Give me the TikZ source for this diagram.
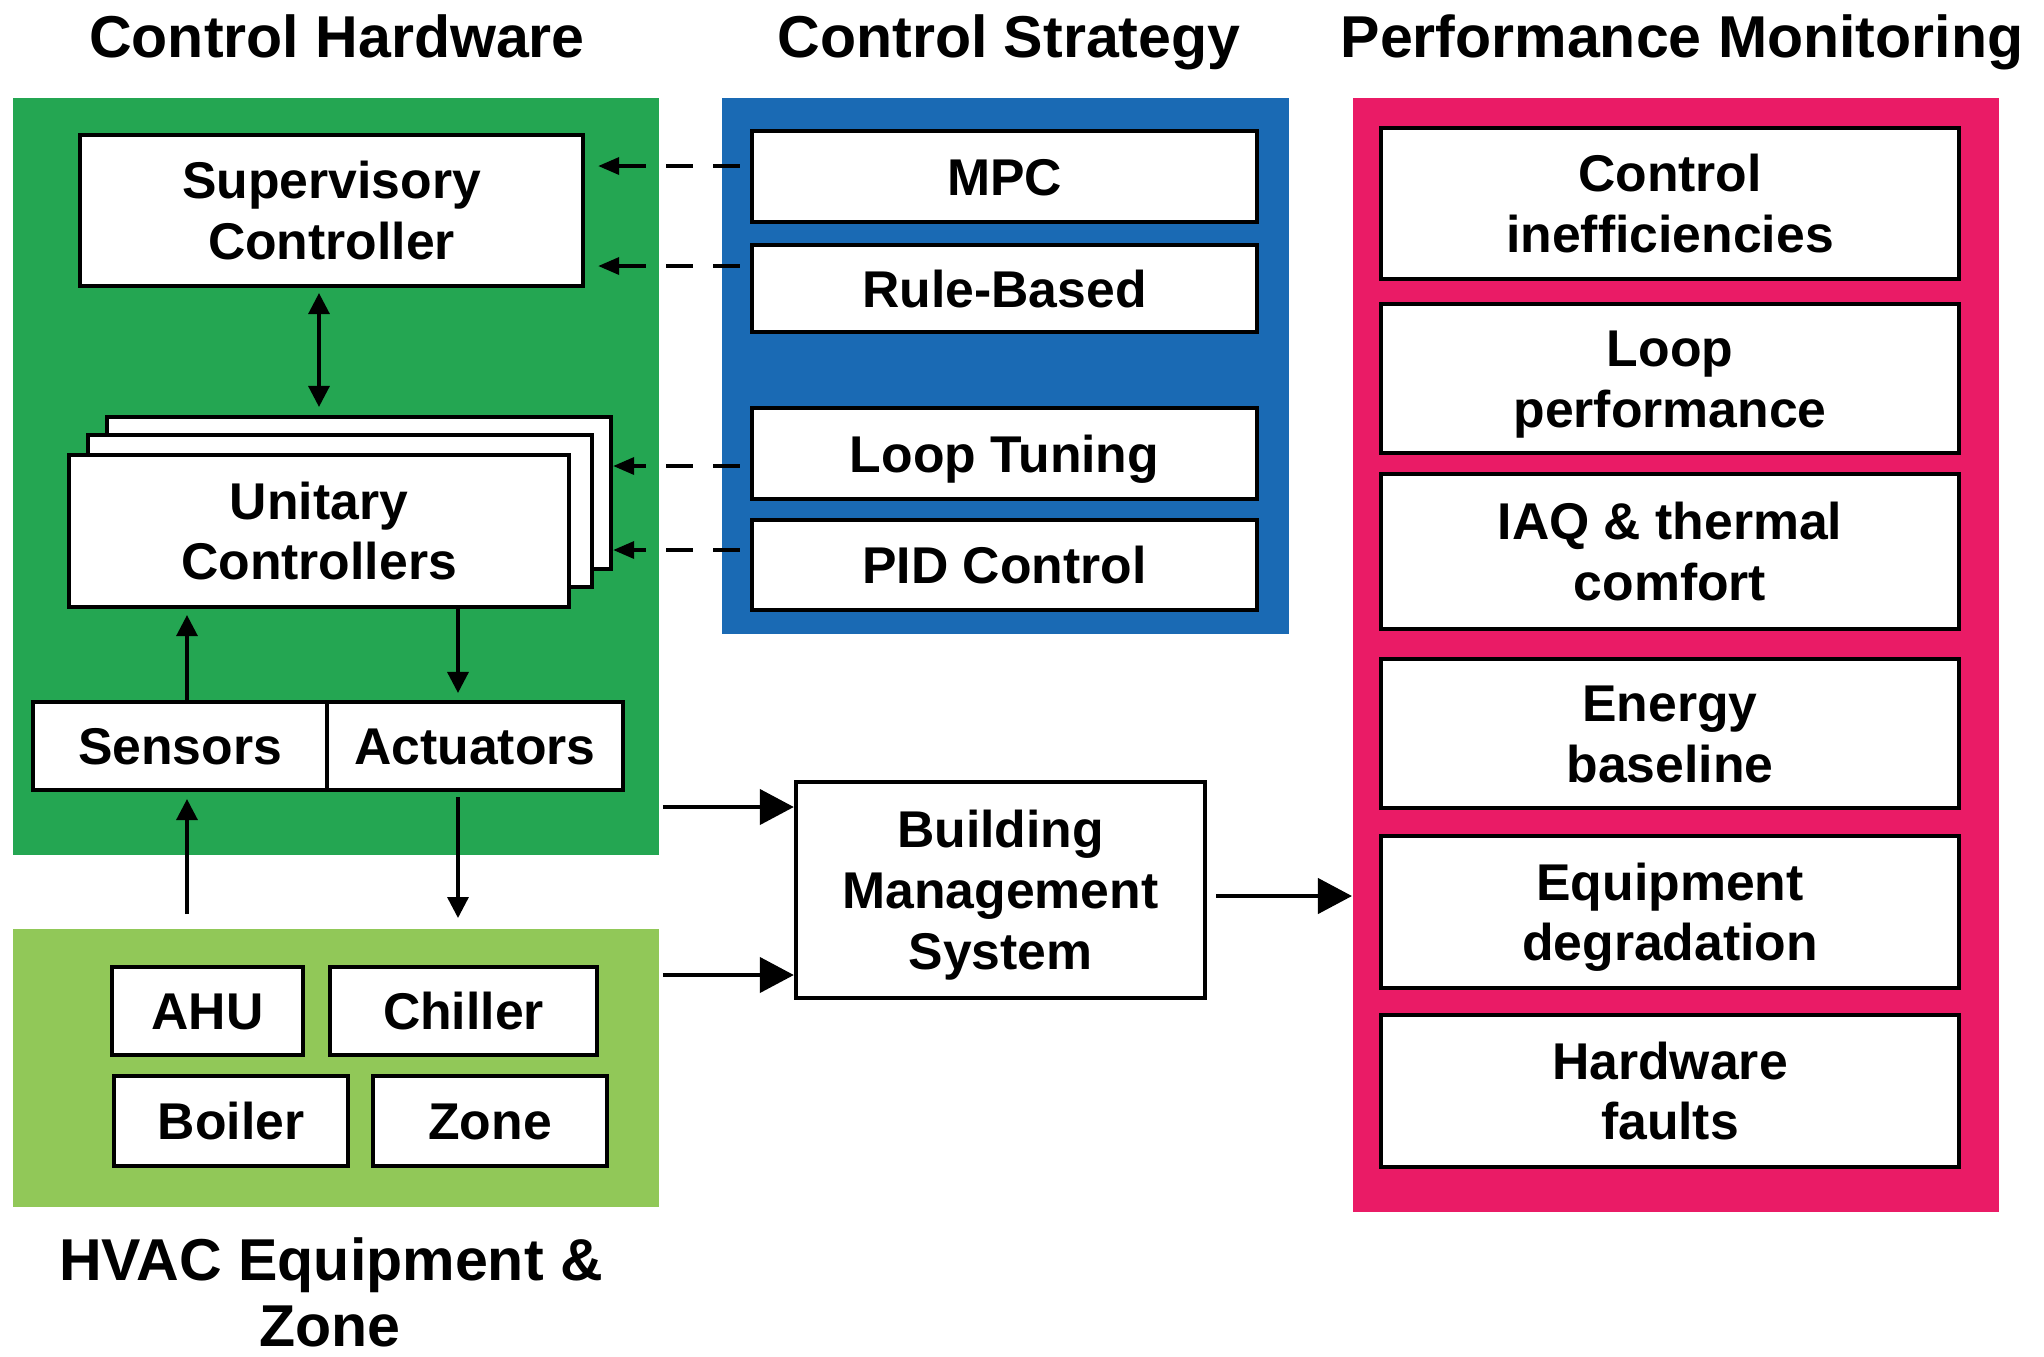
\documentclass[tikz,border=0pt]{standalone}
\usepackage{fontspec}
\setmainfont{Liberation Sans}
\usetikzlibrary{arrows.meta,calc}
\definecolor{hwgreen}{RGB}{36,166,82}
\definecolor{eqgreen}{RGB}{145,200,88}
\definecolor{csblue}{RGB}{26,106,180}
\definecolor{pmpink}{RGB}{234,27,102}
\newcommand{\capr}{\rule{0pt}{0.716em}}
\newcommand{\lone}[1]{\capr\smash{#1}}
\newcommand{\ltwo}[2]{\capr\smash{#1}\\\smash{#2}}
\newcommand{\lthree}[3]{\capr\smash{#1}\\\smash{#2}\\\smash{#3}}
\begin{document}
\begin{tikzpicture}[x=0.01cm,y=-0.01cm,
  box/.style={draw=black,fill=white,line width=1.15pt,inner sep=0pt,align=center,
    font=\bfseries\fontsize{14.7pt}{17.3pt}\selectfont},
  panel/.style={inner sep=0pt,draw=none,anchor=north west},
  ttl/.style={font=\bfseries\fontsize{16.8pt}{20.2pt}\selectfont,anchor=base,inner sep=0pt},
  thinar/.style={line width=0.95pt,-{Triangle[length=0.21cm,width=0.21cm]}},
  dashar/.style={line width=1pt,dash pattern=on 0.27cm off 0.2cm,-{Triangle[length=0.21cm,width=0.17cm]}},
  bigar/.style={line width=1.2pt,-{Triangle[length=0.34cm,width=0.35cm]}}
]
\useasboundingbox (0,0) rectangle (2044,1356);
\fill[white] (0,0) rectangle (2044,1356);

% panels
\node[panel,fill=hwgreen,minimum width=6.46cm,minimum height=7.57cm] (hw) at (12,97) {};
\node[panel,fill=eqgreen,minimum width=6.46cm,minimum height=2.78cm] (eq) at (12,928) {};
\node[panel,fill=csblue,minimum width=5.67cm,minimum height=5.36cm] (cs) at (721,97) {};
\node[panel,fill=pmpink,minimum width=6.46cm,minimum height=11.14cm] (pm) at (1352,97) {};

% titles
\node[ttl] (t1) at (337,57) {Control Hardware};
\node[ttl] (t2) at (1009,57) {Control Strategy};
\node[ttl] (t3) at (1682,57) {Performance Monitoring};
\node[ttl] (t4) at (331,1280) {HVAC Equipment \&};
\node[ttl] (t5) at (330,1346) {Zone};

% control hardware
\node[box,minimum width=5.03cm,minimum height=1.51cm] (sup) at (331.5,210.5) {\ltwo{Supervisory}{Controller}};
\node[box,minimum width=5.04cm,minimum height=1.52cm] (ucb) at (359,493) {};
\node[box,minimum width=5.04cm,minimum height=1.52cm] (ucm) at (340,511) {};
\node[box,minimum width=5.00cm,minimum height=1.52cm] (ucf) at (319,531) {\ltwo{Unitary}{Controllers}};
\node[box,minimum width=2.94cm,minimum height=0.88cm] (sens) at (180,746) {\lone{Sensors}};
\node[box,minimum width=2.96cm,minimum height=0.88cm] (act) at (475,746) {\lone{Actuators}};

% HVAC equipment
\node[box,minimum width=1.91cm,minimum height=0.88cm] (ahu) at (207.5,1011) {\lone{AHU}};
\node[box,minimum width=2.67cm,minimum height=0.88cm] (chil) at (463.5,1011) {\lone{Chiller}};
\node[box,minimum width=2.34cm,minimum height=0.90cm] (boil) at (231,1121) {\lone{Boiler}};
\node[box,minimum width=2.34cm,minimum height=0.90cm] (zone) at (490,1121) {\lone{Zone}};

% control strategy
\node[box,minimum width=5.05cm,minimum height=0.91cm] (mpc) at (1004.5,176.5) {\lone{MPC}};
\node[box,minimum width=5.05cm,minimum height=0.87cm] (rule) at (1004.5,288.5) {\lone{Rule-Based}};
\node[box,minimum width=5.05cm,minimum height=0.91cm] (loop) at (1004.5,453.5) {\lone{Loop Tuning}};
\node[box,minimum width=5.05cm,minimum height=0.90cm] (pid) at (1004.5,565) {\lone{PID Control}};

% performance monitoring
\node[box,minimum width=5.78cm,minimum height=1.51cm] (pm1) at (1670,203.5) {\ltwo{Control}{inefficiencies}};
\node[box,minimum width=5.78cm,minimum height=1.49cm] (pm2) at (1670,378.5) {\ltwo{Loop}{performance}};
\node[box,minimum width=5.78cm,minimum height=1.55cm] (pm3) at (1670,551.5) {\ltwo{IAQ \& thermal}{comfort}};
\node[box,minimum width=5.78cm,minimum height=1.49cm] (pm4) at (1670,733.5) {\ltwo{Energy}{baseline}};
\node[box,minimum width=5.78cm,minimum height=1.52cm] (pm5) at (1670,912) {\ltwo{Equipment}{degradation}};
\node[box,minimum width=5.78cm,minimum height=1.52cm] (pm6) at (1670,1091) {\ltwo{Hardware}{faults}};

% BMS
\node[box,minimum width=4.09cm,minimum height=2.16cm] (bms) at (1000.5,890) {\lthree{Building}{Management}{System}};

% connectors in control hardware
\draw[thinar,{Triangle[length=0.21cm,width=0.21cm]}-{Triangle[length=0.21cm,width=0.21cm]},shorten <=0.05cm,shorten >=0.08cm]
  (sup.south -| ucf.north) -- (ucb.north -| ucf.north);
\coordinate (sa) at ($(sens.north)+(7,0)$);
\coordinate (aa) at ($(act.north)+(-17,0)$);
\draw[thinar,shorten >=0.06cm] (sa) -- (sa |- ucf.south);
\draw[thinar,shorten >=0.07cm] (aa |- ucf.south) -- (aa);
\coordinate (hs) at (187,914);
\coordinate (ha) at (458,918);
\draw[thinar,shorten >=0.07cm] (hs) -- (hs |- sens.south);
\draw[thinar,shorten <=0.05cm] (ha |- act.south) -- (ha);

% dashed strategy links
\draw[dashar,shorten <=0.1cm,shorten >=0.13cm] (mpc.west |- 0,166) -- (sup.east |- 0,166);
\draw[dashar,shorten <=0.1cm,shorten >=0.13cm] (rule.west |- 0,266) -- (sup.east |- 0,266);
\draw[dashar,shorten <=0.1cm] (loop.west |- 0,466) -- (ucb.east |- 0,466);
\draw[dashar,shorten <=0.1cm] (pid.west |- 0,550) -- (ucb.east |- 0,550);

% BMS links
\draw[bigar,shorten <=0.03cm] (hw.east |- 0,807) -- (bms.west |- 0,807);
\draw[bigar,shorten <=0.03cm] (eq.east |- 0,975) -- (bms.west |- 0,975);
\draw[bigar,shorten <=0.09cm] (bms.east |- 0,896) -- (pm.west |- 0,896);
\end{tikzpicture}
\end{document}
